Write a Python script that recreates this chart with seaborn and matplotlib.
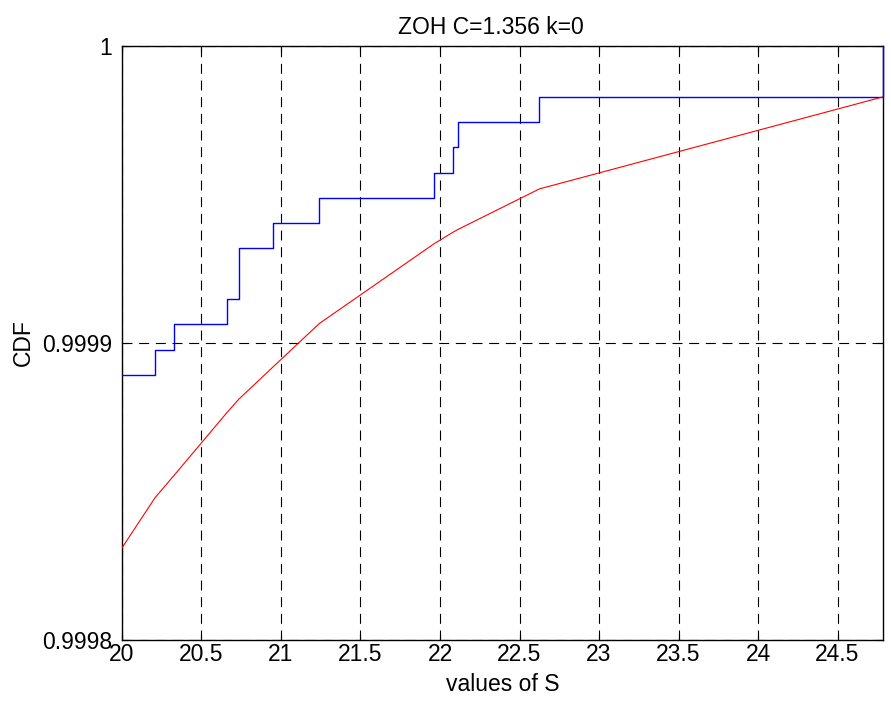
import matplotlib
matplotlib.use("Agg")
import matplotlib.pyplot as plt
import seaborn as sns
import numpy as np
import pandas as pd

# Empirical CDF (blue steps)
emp_x = [20.0, 20.208, 20.329, 20.658, 20.734, 20.952, 21.241, 21.964, 22.084, 22.111, 22.625, 24.788]
emp_y = [0.99988920, 0.99989772, 0.99990620, 0.99991480, 0.99993180, 0.99994030,
         0.99994870, 0.99995730, 0.99996580, 0.99997420, 0.99998280, 1.0]

# Theoretical CDF (red line)
th_x = [20.0, 20.208, 20.329, 20.658, 20.734, 20.952, 21.241, 21.964, 22.084, 22.111, 22.625, 24.788]
th_y = [0.99983100, 0.99984790, 0.99985550, 0.99987640, 0.99988100, 0.99989200,
        0.99990650, 0.99993340, 0.99993730, 0.99993810, 0.99995180, 0.99998280]

x_ticks = [20, 20.5, 21, 21.5, 22, 22.5, 23, 23.5, 24, 24.5]
x_tick_labels = ["20", "20.5", "21", "21.5", "22", "22.5", "23", "23.5", "24", "24.5"]
y_ticks = [0.9998, 0.9999, 1.0]
y_tick_labels = ["0.9998", "0.9999", "1"]

sns.set_theme(style="white")
plt.rcParams['font.family'] = ['Liberation Sans', 'DejaVu Sans']

FS = 16.5

fig = plt.figure(figsize=(8.91, 7.08), dpi=100)
ax = fig.add_axes([0.1369, 0.0960, 0.9914 - 0.1369, 0.9355 - 0.0960])

emp = pd.DataFrame({"S": emp_x, "CDF": emp_y})
th = pd.DataFrame({"S": th_x, "CDF": th_y})

sns.lineplot(data=emp, x="S", y="CDF", ax=ax, color="#0000ff", linewidth=1.0,
             drawstyle="steps-post", sort=False, zorder=3, clip_on=False)
sns.lineplot(data=th, x="S", y="CDF", ax=ax, color="#ff0000", linewidth=0.8, sort=False,
             zorder=3)

ax.set_xlim(20, 24.788)
ax.set_ylim(0.9998, 1.0)
ax.set_xticks(x_ticks)
ax.set_xticklabels(x_tick_labels)
ax.set_yticks(y_ticks)
ax.set_yticklabels(y_tick_labels)

ax.grid(True, color="black", linestyle=(0, (9, 6)), linewidth=0.8)
ax.set_axisbelow(True)
for s in ax.spines.values():
    s.set_visible(True)
    s.set_color("black")
    s.set_linewidth(1.0)

ax.tick_params(axis="both", which="both", direction="in", length=4, width=0.8,
               colors="black", labelsize=FS, top=True, right=True, bottom=True, left=True)
ax.tick_params(axis="x", pad=2)
ax.tick_params(axis="y", pad=7)

ax.set_title("ZOH C=1.356 k=0", fontsize=FS, pad=8.5, color="black", x=0.484)
ax.set_xlabel("values of S", fontsize=FS, labelpad=5, color="black")
ax.set_ylabel("CDF", fontsize=FS, labelpad=5, color="black")

fig.savefig("out.png", dpi=100, facecolor="white")
